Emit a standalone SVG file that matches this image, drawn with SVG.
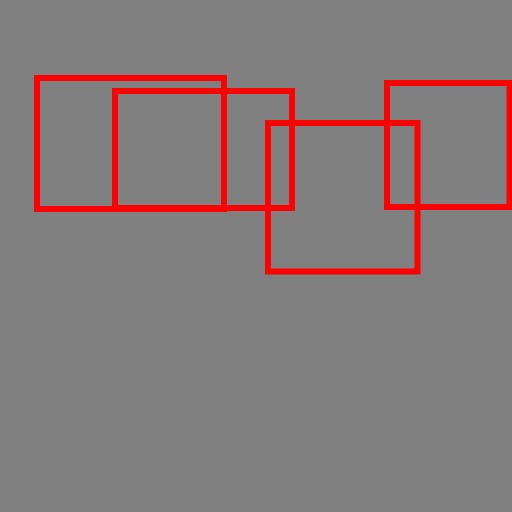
<svg xmlns="http://www.w3.org/2000/svg" width="512" height="512" viewBox="0 0 512 512">
<style>
.box{fill:none;stroke:#ff0000;stroke-width:6}
</style>
<rect width="512" height="512" fill="#808080"/>
<g id="box1"><rect class="box" x="37" y="78" width="187" height="131"/></g>
<g id="box2"><rect class="box" x="115" y="91" width="177" height="117"/></g>
<g id="box3"><rect class="box" x="268" y="123" width="149.5" height="148.5"/></g>
<g id="box4"><rect class="box" x="387" y="83" width="122.5" height="124"/></g>
</svg>
